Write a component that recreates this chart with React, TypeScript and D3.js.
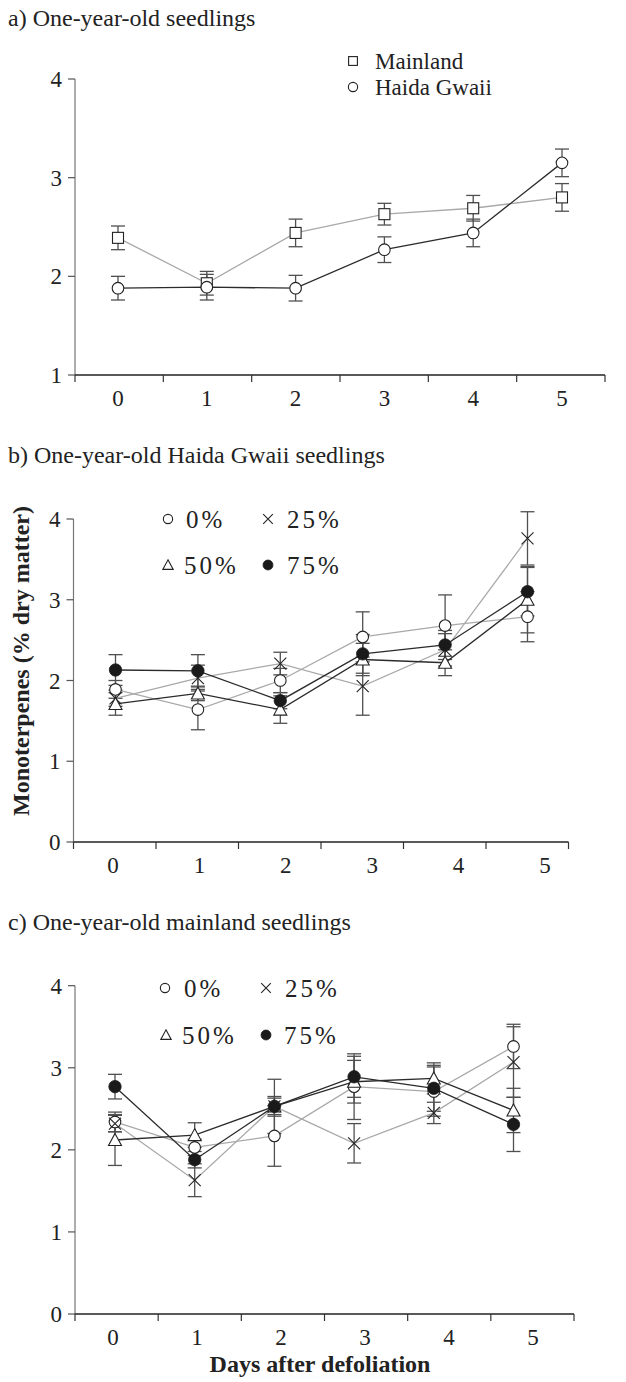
import React from 'react';
import * as d3 from 'd3';

// days after defoliation (x categories)
const days = ['0', '1', '2', '3', '4', '5'];

// a) one-year-old seedlings, by origin
const mainland = [2.39, 1.93, 2.44, 2.63, 2.69, 2.80];
const mainlandSE = [0.12, 0.12, 0.14, 0.11, 0.13, 0.14];
const haida = [1.88, 1.89, 1.88, 2.27, 2.44, 3.15];
const haidaSE = [0.12, 0.13, 0.13, 0.13, 0.14, 0.14];

// b) Haida Gwaii seedlings, by defoliation level
const hg0 = [1.89, 1.64, 2.00, 2.54, 2.68, 2.79];
const hg0SE = [0.11, 0.25, 0.15, 0.31, 0.38, 0.31];
const hg25 = [1.78, 2.03, 2.21, 1.93, 2.38, 3.76];
const hg25SE = [0.10, 0.16, 0.14, 0.36, 0.20, 0.33];
const hg50 = [1.71, 1.84, 1.64, 2.26, 2.22, 3.00];
const hg50SE = [0.14, 0.09, 0.17, 0.20, 0.16, 0.41];
const hg75 = [2.13, 2.12, 1.75, 2.33, 2.44, 3.10];
const hg75SE = [0.19, 0.20, 0.10, 0.24, 0.18, 0.30];

// c) mainland seedlings, by defoliation level
const ml0 = [2.34, 2.03, 2.17, 2.77, 2.71, 3.26];
const ml0SE = [0.12, 0.10, 0.37, 0.40, 0.30, 0.27];
const ml25 = [2.32, 1.63, 2.53, 2.08, 2.45, 3.07];
const ml25SE = [0.10, 0.20, 0.33, 0.24, 0.13, 0.43];
const ml50 = [2.12, 2.18, 2.53, 2.83, 2.87, 2.48];
const ml50SE = [0.31, 0.15, 0.12, 0.26, 0.19, 0.27];
const ml75 = [2.77, 1.88, 2.53, 2.89, 2.75, 2.31];
const ml75SE = [0.15, 0.10, 0.10, 0.25, 0.28, 0.33];

const yTicksA = [1, 2, 3, 4];
const yTicksBC = [0, 1, 2, 3, 4];

const FONT = '"Liberation Serif", "Times New Roman", Times, serif';
const GRAY = '#a9a9a9';
const DARK = '#2b2b2b';
const ERR = '#505050';

type Shape = 'circle' | 'square' | 'triangle' | 'cross' | 'dot';

const Marker = ({ shape, x, y, s = 1 }: { shape: Shape; x: number; y: number; s?: number }) => {
    if (shape === 'circle') return <circle cx={x} cy={y} r={5.8 * s} fill="#fff" stroke="#222" strokeWidth={1.1} />;
    if (shape === 'dot') return <circle cx={x} cy={y} r={6.2 * s} fill="#1a1a1a" stroke="#1a1a1a" strokeWidth={0.8} />;
    if (shape === 'square') {
        const h = 5.5 * s;
        return <rect x={x - h} y={y - h} width={2 * h} height={2 * h} fill="#fff" stroke="#222" strokeWidth={1.1} />;
    }
    if (shape === 'triangle') {
        const h = 6.5 * s;
        return <path d={`M${x},${y - h}L${x + h},${y + h * 0.85}L${x - h},${y + h * 0.85}Z`} fill="#fff" stroke="#222" strokeWidth={1.1} />;
    }
    const h = 6 * s;
    return <path d={`M${x - h},${y - h}L${x + h},${y + h}M${x - h},${y + h}L${x + h},${y - h}`} stroke="#222" strokeWidth={1.1} fill="none" />;
};

type Series = { label: string; values: number[]; se: number[]; shape: Shape; line: string };

const Panel = ({ title, titleY, axisRange, pointRange, labelRange, axisY, topY, yDomain, yTicks, series, legend, legendSize, legendSpacing }: {
    title: string; titleY: number; axisRange: [number, number]; pointRange: [number, number]; labelRange: [number, number];
    axisY: number; topY: number; yDomain: [number, number]; yTicks: number[]; series: Series[];
    legend: { x: number; y: number; tx: number }[]; legendSize: number; legendSpacing: number;
}) => {
    // the printed figure's tick marks, labels and points are not quite on one grid
    const band = d3.scaleBand().domain(days).range(axisRange);
    const px = d3.scalePoint().domain(days).range(pointRange);
    const lx = d3.scalePoint().domain(days).range(labelRange);
    const y = d3.scaleLinear().domain(yDomain).range([axisY, topY]);
    const line = d3.line<number>().x((_, i) => px(days[i]) as number).y(v => y(v));
    const bounds = [...days.map(d => band(d) as number), axisRange[1]];
    const cap = 7;

    return (
        <g>
            <text x={8} y={titleY} fontSize={24} fontFamily={FONT} fill="#222">{title}</text>
            {/* y axis */}
            <line x1={axisRange[0]} x2={axisRange[0]} y1={y(yDomain[1])} y2={axisY} stroke="#777" strokeWidth={1.2} />
            {yTicks.map(t => (
                <g key={t}>
                    <line x1={axisRange[0] - 7} x2={axisRange[0]} y1={y(t)} y2={y(t)} stroke="#555" strokeWidth={1.2} />
                    <text x={axisRange[0] - 13} y={y(t)} dy="0.35em" textAnchor="end" fontSize={23} fontFamily={FONT} fill="#222">{t}</text>
                </g>
            ))}
            {/* x axis */}
            <line x1={axisRange[0]} x2={axisRange[1]} y1={axisY} y2={axisY} stroke="#222" strokeWidth={1.3} />
            {bounds.map((b, i) => (
                <line key={i} x1={b} x2={b} y1={axisY} y2={axisY + 7} stroke="#333" strokeWidth={1.2} />
            ))}
            {days.map(d => (
                <text key={d} x={lx(d)} y={axisY + 31} textAnchor="middle" fontSize={23} fontFamily={FONT} fill="#222">{d}</text>
            ))}
            {/* error bars */}
            {series.map(s => s.values.map((v, i) => {
                const x0 = px(days[i]) as number;
                const y1 = y(v + s.se[i]);
                const y2 = y(v - s.se[i]);
                return (
                    <g key={s.label + i} stroke={ERR} strokeWidth={1.3}>
                        <line x1={x0} x2={x0} y1={y1} y2={y2} />
                        <line x1={x0 - cap} x2={x0 + cap} y1={y1} y2={y1} />
                        <line x1={x0 - cap} x2={x0 + cap} y1={y2} y2={y2} />
                    </g>
                );
            }))}
            {/* lines */}
            {series.map(s => (
                <path key={s.label} d={line(s.values) || ''} fill="none" stroke={s.line} strokeWidth={1.3} />
            ))}
            {/* markers */}
            {series.map(s => s.values.map((v, i) => (
                <Marker key={s.label + i} shape={s.shape} x={px(days[i]) as number} y={y(v)} />
            )))}
            {/* legend */}
            {series.map((s, i) => (
                <g key={'lg' + s.label}>
                    <Marker shape={s.shape} x={legend[i].x} y={legend[i].y} s={0.8} />
                    <text x={legend[i].tx} y={legend[i].y} dy="0.35em" fontSize={legendSize} letterSpacing={legendSpacing}
                        fontFamily={FONT} fill="#222">{s.label}</text>
                </g>
            ))}
        </g>
    );
};

const App = () => {
    const seriesA: Series[] = [
        { label: 'Mainland', values: mainland, se: mainlandSE, shape: 'square', line: GRAY },
        { label: 'Haida Gwaii', values: haida, se: haidaSE, shape: 'circle', line: DARK },
    ];
    const seriesB: Series[] = [
        { label: '0%', values: hg0, se: hg0SE, shape: 'circle', line: GRAY },
        { label: '25%', values: hg25, se: hg25SE, shape: 'cross', line: GRAY },
        { label: '50%', values: hg50, se: hg50SE, shape: 'triangle', line: DARK },
        { label: '75%', values: hg75, se: hg75SE, shape: 'dot', line: DARK },
    ];
    const seriesC: Series[] = [
        { label: '0%', values: ml0, se: ml0SE, shape: 'circle', line: GRAY },
        { label: '25%', values: ml25, se: ml25SE, shape: 'cross', line: GRAY },
        { label: '50%', values: ml50, se: ml50SE, shape: 'triangle', line: DARK },
        { label: '75%', values: ml75, se: ml75SE, shape: 'dot', line: DARK },
    ];

    return (
        <div>
            <style>{'body{margin:0}'}</style>
            <svg width={626} height={1382} style={{ display: 'block', background: '#fff' }}>
                <Panel title="a) One-year-old seedlings" titleY={26}
                    axisRange={[75, 605]} pointRange={[118, 562]} labelRange={[118, 562]} axisY={375} topY={79}
                    yDomain={[1, 4]} yTicks={yTicksA} series={seriesA} legendSize={23} legendSpacing={0}
                    legend={[{ x: 353, y: 61, tx: 375 }, { x: 353, y: 87, tx: 375 }]} />
                <Panel title="b) One-year-old Haida Gwaii seedlings" titleY={463}
                    axisRange={[73.5, 568.5]} pointRange={[115.5, 527.5]} labelRange={[113, 545]} axisY={842} topY={519}
                    yDomain={[0, 4]} yTicks={yTicksBC} series={seriesB} legendSize={25} legendSpacing={3}
                    legend={[{ x: 168, y: 519, tx: 186 }, { x: 268, y: 519, tx: 287 }, { x: 168, y: 565, tx: 184 }, { x: 268, y: 565, tx: 287 }]} />
                <Panel title="c) One-year-old mainland seedlings" titleY={930}
                    axisRange={[75, 574]} pointRange={[115, 513.5]} labelRange={[113, 533]} axisY={1314} topY={985.7}
                    yDomain={[0, 4]} yTicks={yTicksBC} series={seriesC} legendSize={25} legendSpacing={3}
                    legend={[{ x: 165, y: 988, tx: 184 }, { x: 266, y: 988, tx: 285 }, { x: 166, y: 1035, tx: 182 }, { x: 266, y: 1035, tx: 284 }]} />
                <text transform="translate(29,661) rotate(-90)" textAnchor="middle" fontSize={24} fontWeight="bold" fontFamily={FONT} fill="#222">
                    Monoterpenes (% dry matter)
                </text>
                <text x={320} y={1372} textAnchor="middle" fontSize={24} fontWeight="bold" fontFamily={FONT} fill="#222">
                    Days after defoliation
                </text>
            </svg>
        </div>
    );
};

export default App;
